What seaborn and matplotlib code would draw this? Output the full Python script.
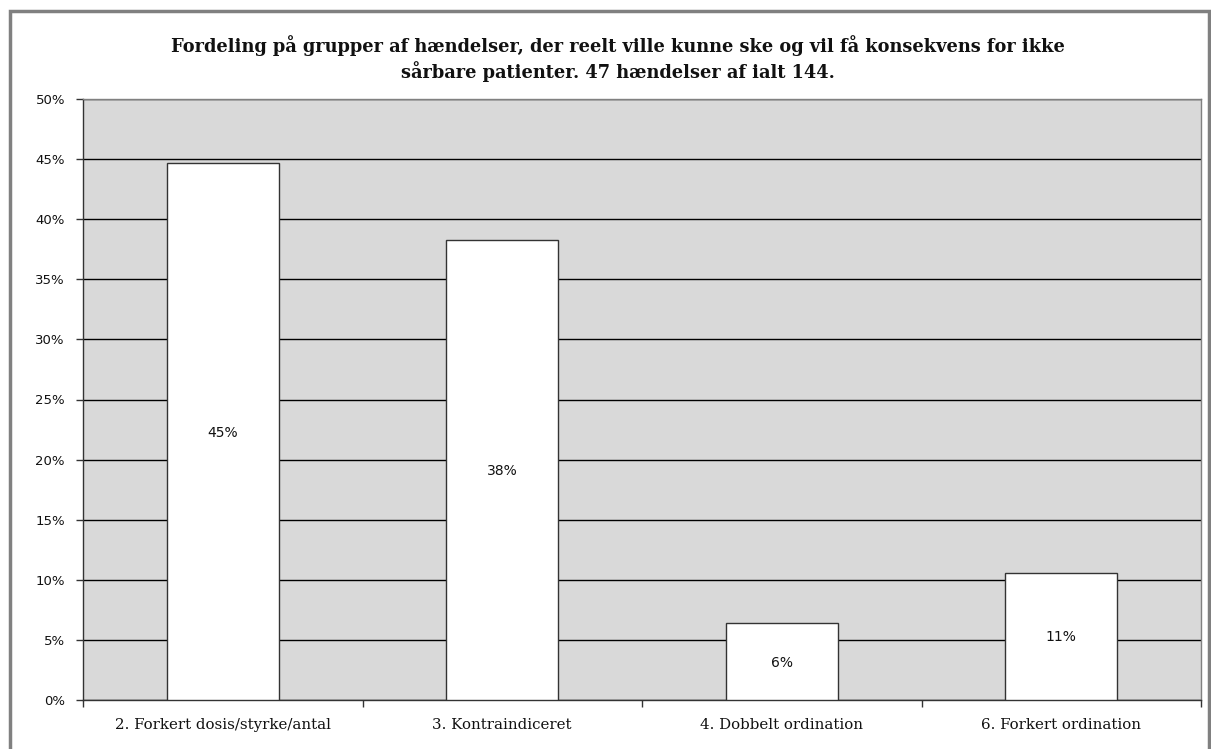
import numpy as np
import pandas as pd
import matplotlib
matplotlib.use('Agg')
import matplotlib.pyplot as plt
import seaborn as sns
from matplotlib.patches import Rectangle

# Data: 47 events in total
categories = ['2. Forkert dosis/styrke/antal', '3. Kontraindiceret',
              '4. Dobbelt ordination', '6. Forkert ordination']
shares = [0.447, 0.383, 0.064, 0.106]
bar_labels = ['45%', '38%', '6%', '11%']
y_ticks = [0, 0.05, 0.10, 0.15, 0.20, 0.25, 0.30, 0.35, 0.40, 0.45, 0.50]
y_tick_labels = ['0%', '5%', '10%', '15%', '20%', '25%', '30%', '35%', '40%', '45%', '50%']

df = pd.DataFrame({'kategori': categories, 'andel': shares})

sns.set_style('white')
plt.rcParams['font.family'] = ['DejaVu Sans']

fig = plt.figure(figsize=(12.11, 7.49), dpi=100)
ax = fig.add_axes([83 / 1211, 1 - 700 / 749, (1201 - 83) / 1211, (700 - 99) / 749])

# outer frame
fig.patches.append(Rectangle((10 / 1211, -0.01), 1199 / 1211, 1 - 11 / 749 + 0.01,
                             transform=fig.transFigure, fill=False,
                             edgecolor='#808080', linewidth=2.5))

ax.set_facecolor('#D9D9D9')
sns.barplot(data=df, x='kategori', y='andel', color='white', width=0.4,
            edgecolor='#333333', linewidth=1.0, ax=ax, zorder=3)

ax.set_ylim(0, 0.5)
ax.set_xlim(-0.5, len(categories) - 0.5)
ax.set_yticks(y_ticks)
ax.set_yticklabels(y_tick_labels, fontsize=9.5, family='DejaVu Sans', color='#111111')
ax.yaxis.grid(True, color='black', linewidth=1.0, zorder=0)
ax.set_axisbelow(True)

ax.set_xticks(np.arange(len(categories)))
ax.set_xticklabels(categories, fontsize=10.8, family='DejaVu Serif', color='#111111')
ax.tick_params(axis='x', length=0, pad=13)
ax.tick_params(axis='y', length=5, width=1, color='#333333', left=True, pad=8)
# category boundary ticks
ax.set_xticks(np.arange(len(categories) + 1) - 0.5, minor=True)
ax.tick_params(axis='x', which='minor', length=5, width=1, color='#333333', bottom=True)

for side in ['left', 'bottom']:
    ax.spines[side].set_color('#333333')
    ax.spines[side].set_linewidth(1.0)
ax.spines['top'].set_color('#808080')
ax.spines['right'].set_color('#808080')
ax.spines['top'].set_linewidth(1.0)
ax.spines['right'].set_linewidth(1.0)

for i, (v, lab) in enumerate(zip(shares, bar_labels)):
    ax.text(i, v / 2 - 0.001, lab, ha='center', va='center', fontsize=10,
            family='DejaVu Sans', color='#111111', zorder=4)

ax.set_xlabel('')
ax.set_ylabel('')

fig.text(0.51, 1 - 59 / 749,
         'Fordeling på grupper af hændelser, der reelt ville kunne ske og vil få konsekvens for ikke\n'
         'sårbare patienter. 47 hændelser af ialt 144.',
         ha='center', va='center', fontsize=12.8, fontweight='bold',
         family='DejaVu Serif', linespacing=1.3, color='#111111')

fig.savefig('out.png', dpi=100)
